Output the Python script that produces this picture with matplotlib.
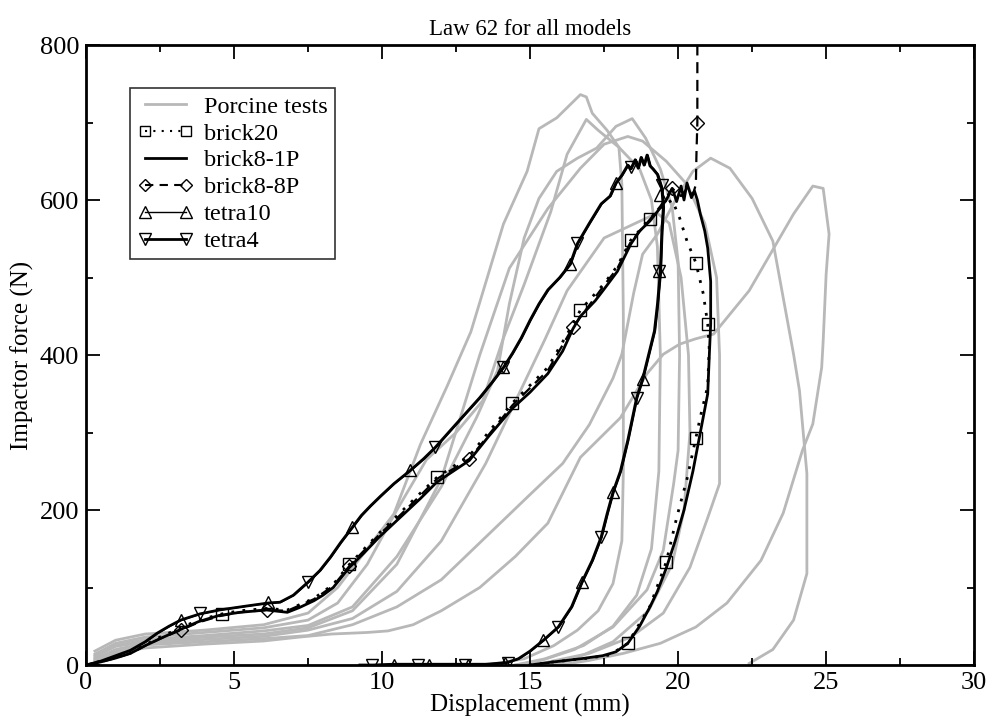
import matplotlib.pyplot as plt
from matplotlib.lines import Line2D
from matplotlib.ticker import MultipleLocator

plt.rcParams['font.family'] = ['Liberation Serif', 'DejaVu Serif']

# ---- porcine tests (gray loops: x, y) ----
porcine = [
    ([0.3, 1, 2, 4, 6, 7.5, 8.5, 9.5, 10.4, 11.3, 12.2, 13, 14.1, 14.9, 15.3, 15.9, 16.7,
      16.9, 17.1, 17.6, 18.0, 18.1, 18.15, 18.15, 18.1, 17.8, 17.3, 16.6, 15.8, 14.8, 13.5],
     [18, 32, 40, 45, 52, 67, 100, 150, 195, 285, 360, 430, 569, 637, 692, 706, 736,
      733, 712, 690, 668, 620, 450, 250, 160, 105, 70, 45, 25, 8, 0]),
    ([0.3, 1, 2, 4, 6, 7.5, 8.5, 9.5, 10.5, 11.5, 12.5, 13.4, 14.1, 14.8, 15.7, 16.25, 16.9,
      17.3, 18.0, 18.7, 19.1, 19.3, 19.4, 19.35, 19.1, 18.6, 17.8, 16.8, 15.5, 14.5],
     [14, 28, 36, 42, 48, 58, 80, 130, 200, 265, 300, 341, 422, 491, 585, 659, 704,
      690, 668, 640, 600, 540, 400, 250, 150, 90, 50, 25, 8, 0]),
    ([0.3, 1, 2, 4, 6, 7.5, 9, 10.5, 12, 13.2, 13.9, 14.3, 14.8, 15.3, 15.9, 16.6, 17.25, 17.9, 18.45,
      18.9, 19.4, 19.8, 20.0, 20.05, 20.0, 19.85, 19.5, 18.95, 17.8, 16.5, 15.3, 14.5],
     [10, 25, 33, 38, 44, 51, 75, 140, 230, 320, 380, 466, 551, 602, 637, 654, 667, 695, 705,
      680, 640, 590, 520, 400, 277, 234, 148, 97, 49, 20, 5, 0]),
    ([0.3, 1, 2, 4, 6, 7.5, 9, 10.5, 12, 13.3, 14.3, 15.6, 16.7, 17.5, 18.3,
      18.8, 19.6, 20.3, 20.9, 21.3, 21.4, 21.4, 21.0, 20.4, 19.5, 18.4, 17.0, 15.5, 15.0],
     [12, 24, 30, 36, 40, 48, 70, 130, 240, 400, 512, 589, 641, 672, 682,
      676, 650, 620, 570, 500, 400, 234, 190, 126, 67, 36, 15, 3, 0]),
    ([0.3, 1, 2, 4, 6, 7.5, 9, 10.5, 12, 13.5, 14.5, 15.5, 16.25, 17.5, 18.95, 19.3,
      19.7, 20.1, 20.35, 20.4, 20.2, 19.8, 19.0, 17.8, 16.5, 15.8],
     [8, 20, 28, 33, 37, 45, 60, 95, 160, 260, 340, 420, 483, 551, 577, 583,
      570, 500, 400, 300, 200, 130, 70, 30, 8, 0]),
    ([0.3, 1, 2, 4, 6, 7.5, 9, 10.5, 12, 13.5, 15, 16.1, 17.0, 17.8, 18.1, 18.5, 18.8, 19.3, 19.95, 20.5, 21.1,
      21.75, 22.5, 23.2, 23.9, 24.1, 24.35, 24.35, 23.9, 23.2, 22.4],
     [6, 18, 26, 30, 34, 38, 52, 75, 110, 165, 220, 260, 310, 370, 401, 480, 530, 556, 603, 637, 654,
      641, 602, 547, 401, 354, 247, 118, 58, 20, 2]),
    ([0.3, 1, 2, 4, 6, 7.2, 8.3, 9.5, 10.2, 11.05, 12.0, 13.3, 14.5, 15.6, 16.7, 18.05, 18.95, 19.5, 20.05,
      20.6, 21.2, 22.4, 23.9, 24.55, 24.9, 25.1, 25.0, 24.9, 24.85, 24.55, 24.2, 23.55, 22.8, 21.65, 20.6, 19.4,
      18.15, 17.0, 16.0],
     [5, 15, 22, 27, 31, 36, 40, 42, 44, 52, 70, 100, 140, 183, 268, 319, 376, 401, 414,
      421, 427, 483, 582, 618, 615, 556, 504, 418, 384, 311, 277, 196, 135, 80, 49, 28,
      15, 6, 0]),
]

# ---- tetra models ----
tetra_x = [0, 0.5, 1.0, 1.5, 2.0, 2.4, 2.8, 3.2, 3.85, 4.5, 5.4, 6.15, 6.55, 7.0, 7.5, 7.9, 8.25,
           8.6, 9.0, 9.3, 9.6, 9.95, 10.4, 10.95, 11.4, 11.8, 12.15, 12.5, 12.9, 13.3, 13.7, 14.1,
           14.4, 14.7, 15.0, 15.3, 15.6, 16.0, 16.35, 16.6, 17.0, 17.4, 17.7, 17.9, 18.1, 18.3,
           18.4, 18.55, 18.65, 18.75, 18.85, 18.95, 19.05, 19.15, 19.3, 19.45, 19.5, 19.45, 19.4,
           19.3, 19.2, 19.0, 18.8, 18.6, 18.3, 18.05, 17.8, 17.6, 17.4, 17.1, 16.75, 16.4, 15.95,
           15.45, 15.0, 14.6, 14.2, 13.5, 12.9, 11.6, 10.4, 9.7, 9.25]
tetra_y = [0, 5, 12, 19, 30, 41, 50, 58, 66, 71, 76, 80, 81, 90, 107, 122, 139,
           158, 178, 193, 205, 218, 234, 251, 266, 281, 296, 311, 328, 345, 364, 384,
           402, 422, 445, 466, 484, 500, 517, 544, 570, 595, 605, 622, 632, 645,
           640, 652, 641, 655, 645, 658, 644, 640, 633, 615, 590, 560, 508,
           465, 431, 400, 369, 345, 290, 250, 223, 195, 165, 135, 107, 75, 49,
           32, 18, 8, 3, 1, 1, 1, 1, 0, 0]
tetra10_mx = [3.2, 6.15, 9.0, 10.95, 14.1, 16.35, 17.9, 19.4, 19.35, 18.8, 17.8, 16.75, 15.45, 14.15, 12.9, 11.6, 10.4]
tetra10_my = [58, 81, 178, 251, 384, 517, 622, 607, 508, 369, 223, 107, 32, 2, 0, 0, 0]
tetra4_mx = [3.85, 7.5, 11.8, 14.1, 16.6, 18.4, 19.45, 19.35, 18.6, 17.4, 15.95, 14.25, 12.8, 11.2, 9.65]
tetra4_my = [67, 107, 281, 384, 544, 643, 620, 508, 345, 165, 49, 2, 0, 0, 0]

# ---- brick models ----
brick_load_x = [0, 0.5, 1.0, 1.5, 2.0, 2.5, 3.2, 3.8, 4.5, 5.2, 6.1, 6.8, 7.2, 7.7, 8.0, 8.35, 8.9,
                9.4, 9.9, 10.6, 11.3, 11.85, 12.4, 12.95, 13.6, 14.4, 15.0, 15.6, 16.1, 16.45, 16.7,
                17.2, 17.5, 17.95, 18.4, 18.7, 19.05, 19.4, 19.6, 19.8, 19.95, 20.1, 20.2, 20.3, 20.45, 20.55]
brick_load_y = [0, 4, 9, 15, 25, 34, 46, 56, 64, 68, 71, 68, 74, 83, 90, 100, 126,
                145, 165, 190, 215, 236, 250, 264, 295, 331, 352, 376, 405, 434, 450,
                470, 485, 508, 543, 560, 573, 590, 600, 615, 598, 618, 600, 622, 603, 612]
brick1p_unload_x = [20.65, 20.75, 20.9, 21.0, 21.1, 21.1, 21.05, 21.0, 20.75, 20.5, 20.2, 19.9, 19.6,
                    19.3, 19.05, 18.7, 18.3, 17.9, 17.45, 16.7, 15.8, 15.0]
brick1p_unload_y = [600, 582, 560, 538, 495, 440, 396, 350, 300, 250, 200, 160, 125,
                    95, 75, 50, 28, 17, 12, 8, 4, 0]
brick20_x = [0, 0.5, 1.0, 1.5, 2.0, 2.5, 3.2, 3.8, 4.6, 5.2, 6.1, 6.8, 7.7, 8.35, 8.9, 9.9, 10.6,
             11.3, 11.85, 12.95, 14.4, 15.6, 16.45, 16.7, 17.5, 17.95, 18.4, 19.05, 19.4, 19.8, 20.05,
             20.3, 20.6, 20.85, 21.0, 21.05, 21.0, 20.75, 20.6, 20.3, 19.95, 19.6, 19.05, 18.3, 17.7, 17.0, 15.8, 15.0]
brick20_y = [0, 5, 10, 16, 26, 36, 48, 58, 66, 70, 73, 71, 86, 104, 130, 170, 196,
             222, 242, 270, 338, 384, 440, 458, 492, 515, 548, 576, 590, 600, 577,
             547, 519, 479, 440, 410, 360, 320, 293, 240, 190, 133, 76, 28, 13, 9, 4, 0]
brick20_mx = [4.6, 8.9, 11.85, 14.4, 16.7, 18.4, 19.05, 20.6, 21.0, 20.6, 19.6, 18.3]
brick20_my = [66, 130, 242, 338, 458, 548, 576, 519, 440, 293, 133, 28]
brick8p_x = [0, 0.5, 1.0, 1.5, 2.0, 2.5, 3.2, 3.8, 4.5, 5.2, 6.1, 6.8, 7.7, 8.35, 8.9, 9.9, 10.6,
             11.3, 11.85, 12.95, 14.4, 15.6, 16.45, 17.5, 17.95, 18.4, 19.05, 19.4, 19.8, 20.1, 20.3,
             20.5, 20.6, 20.62, 20.65, 20.65]
brick8p_y = [0, 4, 9, 15, 25, 34, 45, 55, 63, 68, 71, 70, 85, 102, 128, 168, 193,
             219, 240, 266, 335, 380, 436, 490, 512, 546, 575, 592, 615, 605, 615,
             607, 620, 660, 700, 850]
brick8p_mx = [3.2, 6.1, 8.9, 12.95, 16.45, 19.8, 20.65]
brick8p_my = [45, 71, 128, 266, 436, 615, 699]

fig, ax = plt.subplots(figsize=(9.91, 7.26), dpi=100)
fig.subplots_adjust(left=0.0868, right=0.983, bottom=0.084, top=0.938)

gray = '#b8b8b8'
for px, py in porcine:
    ax.plot(px, py, color=gray, lw=2.0, zorder=1)

mk = dict(mfc='none', mec='black', mew=1.0, ms=9, ls='none', zorder=4)
ax.plot(tetra_x, tetra_y, color='black', lw=2.0, zorder=3)
ax.plot([x + 0.03 for x in tetra_x], tetra_y, color='black', lw=1.2, zorder=3)
ax.plot(tetra10_mx, tetra10_my, marker='^', **mk)
ax.plot(tetra4_mx, tetra4_my, marker='v', **mk)

ax.plot(brick_load_x + brick1p_unload_x, brick_load_y + brick1p_unload_y,
        color='black', lw=2.0, zorder=3)
ax.plot(brick20_x, brick20_y, color='black', lw=2.0, ls=(0, (1, 3)), zorder=3)
ax.plot(brick20_mx, brick20_my, marker='s', **dict(mk, ms=8))
ax.plot(brick8p_x, brick8p_y, color='black', lw=1.6, ls=(0, (5, 3)), zorder=3)
ax.plot(brick8p_mx, brick8p_my, marker='D', **dict(mk, ms=7))

ax.set_xlim(0, 30)
ax.set_ylim(0, 800)
ax.xaxis.set_major_locator(MultipleLocator(5))
ax.xaxis.set_minor_locator(MultipleLocator(2.5))
ax.yaxis.set_major_locator(MultipleLocator(200))
ax.yaxis.set_minor_locator(MultipleLocator(100))
ax.tick_params(which='both', direction='in', top=True, right=True, width=1.3, labelsize=19)
ax.tick_params(which='major', length=10, pad=5)
ax.tick_params(which='minor', length=5)
for s in ax.spines.values():
    s.set_linewidth(2.0)

ax.set_xlabel('Displacement (mm)', fontsize=18, labelpad=0)
ax.set_ylabel('Impactor force (N)', fontsize=18, labelpad=4)
ax.set_title('Law 62 for all models', fontsize=16.5, pad=7)

handles = [
    Line2D([], [], color=gray, lw=2.0),
    Line2D([], [], color='black', lw=1.5, ls=(0, (1, 3)), marker='s', ms=7, mfc='none', mec='black'),
    Line2D([], [], color='black', lw=2.0),
    Line2D([], [], color='black', lw=1.5, ls=(0, (4, 3)), marker='D', ms=6, mfc='none', mec='black'),
    Line2D([], [], color='black', lw=1.0, marker='^', ms=8, mfc='none', mec='black'),
    Line2D([], [], color='black', lw=2.0, marker='v', ms=8, mfc='none', mec='black'),
]
labels = ['Porcine tests', 'brick20', 'brick8-1P', 'brick8-8P', 'tetra10', 'tetra4']
leg = ax.legend(handles, labels, loc='upper left', bbox_to_anchor=(0.0495, 0.93),
                numpoints=2, fontsize=17.5, frameon=True, fancybox=False, handlelength=2.3,
                labelspacing=0.2, borderpad=0.3, handletextpad=0.45, borderaxespad=0)
leg.get_frame().set_edgecolor('black')
leg.get_frame().set_linewidth(1.2)

fig.savefig('out.png', dpi=100)
